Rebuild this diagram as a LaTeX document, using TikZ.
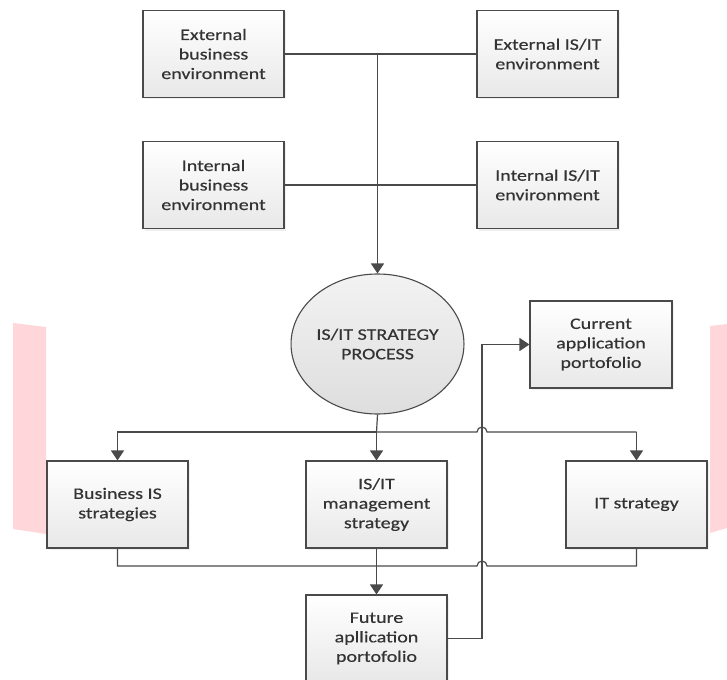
\documentclass[tikz,border=0pt]{standalone}
\usepackage{fontspec}
\setmainfont{Carlito}[FakeStretch=1.25,FakeBold=0.4]
\usetikzlibrary{arrows.meta,shapes.geometric,shadows}
\definecolor{linec}{HTML}{4A4A4A}
\definecolor{textc}{HTML}{333333}
\definecolor{pinkc}{HTML}{FFD6D9}
\begin{document}
\begin{tikzpicture}[x=1pt,y=-1pt,
  box/.style={draw=linec, line width=1.1pt, top color=white, bottom color=black!9,
    minimum width=141pt, minimum height=87pt, inner sep=0pt, align=center,
    text=textc, font=\fontsize{16}{19.5}\selectfont,
    drop shadow={opacity=0.12, shadow xshift=2pt, shadow yshift=-2pt}},
  proc/.style={ellipse, draw=linec, line width=1.1pt, top color=black!5, bottom color=black!13,
    minimum width=166pt, minimum height=140pt, inner sep=0pt, align=center,
    text=textc, font=\fontsize{16}{19.5}\selectfont},
  conn/.style={draw=linec, line width=1.2pt},
  arr/.style={conn, -{Triangle[width=13pt,length=10pt]}}]
\useasboundingbox (0,0) rectangle (727,679);
% background watermark shapes
\fill[pinkc] (13,323) -- (46,327) -- (46,534) -- (13,529) -- cycle;
\fill[pinkc] (710,326) -- (727,324) -- (727,528) -- (710,533) -- cycle;
% nodes
\node[box] (eb) at (213.5,54) {External\\business\\environment};
\node[box] (eit) at (547.5,54) {External IS/IT\\environment};
\node[box] (ib) at (213.5,185) {Internal\\business\\environment};
\node[box] (iit) at (547.5,185) {Internal IS/IT\\environment};
\node[proc] (sp) at (377.5,344) {IS/IT STRATEGY\\PROCESS};
\node[box, minimum width=142pt] (cur) at (601,344.5) {Current\\application\\portofolio};
\node[box] (bis) at (117.5,504.5) {Business IS\\strategies};
\node[box] (mgt) at (376.5,504.5) {IS/IT\\management\\strategy};
\node[box] (its) at (636.5,504.5) {IT strategy};
\node[box] (fut) at (376.5,638.5) {Future\\apllication\\portofolio};
% coordinates
\coordinate (top) at (377.5,54);
\coordinate (dist) at (376.5,432);
\coordinate (cx) at (482,638.5);
% top inputs
\draw[conn] (eb.east) -- (eit.west);
\draw[conn] (ib.east) -- (iit.west);
\draw[arr] (top) -- (sp.north);
% distribution
\draw[conn] (sp.south) -- (dist);
\draw[arr] (dist) -- (mgt.north);
\draw[arr] (dist) -| (bis.north);
\draw[conn] (dist) -- (477,432) arc[start angle=180,end angle=360,radius=5] -- (636.5,432);
\draw[arr] (636.5,432) -- (its.north);
% collection
\draw[conn] (bis.south) |- (477,566) arc[start angle=180,end angle=360,radius=5] -| (its.south);
\draw[arr] (mgt.south) -- (fut.north);
% future -> current
\draw[arr] (fut.east) -- (cx) |- (cur.west);
\end{tikzpicture}
\end{document}
